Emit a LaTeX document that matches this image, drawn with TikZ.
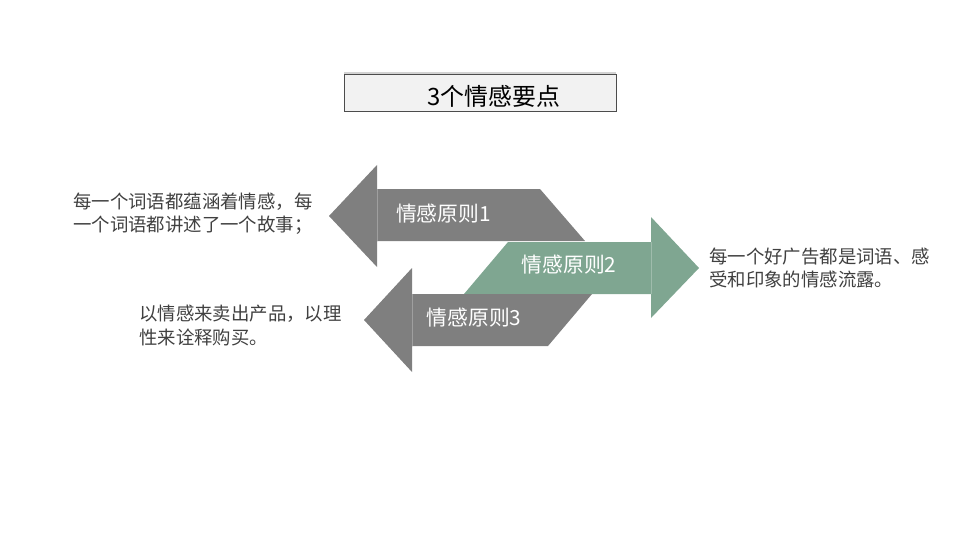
\documentclass[tikz,border=0pt]{standalone}
\usepackage{fontspec}
\setmainfont{Noto Sans CJK SC}
\usetikzlibrary{shadows}
\definecolor{arrgrey}{HTML}{7F7F7F}
\definecolor{arrgreen}{HTML}{7FA691}
\definecolor{txtgrey}{HTML}{404040}
\definecolor{boxfill}{HTML}{F2F2F2}
\tikzset{
  greyarrow/.style={fill=arrgrey, draw=none},
  greenarrow/.style={fill=arrgreen, draw=none},
  seam/.style={draw=white, opacity=0.25, line width=0.6pt},
  arrlabel/.style={text=white, font=\fontsize{20.8}{24}\selectfont, inner sep=0pt},
  sidetext/.style={text=txtgrey, font=\fontsize{18.4}{23.5}\selectfont, align=left, inner sep=0pt, anchor=west},
  titlebox/.style={draw=black!70, line width=0.8pt, fill=boxfill, minimum width=272pt, minimum height=37pt, inner sep=0pt,
    drop shadow={shadow xshift=0pt, shadow yshift=2pt, opacity=0.35}},
}
\begin{document}
\begin{tikzpicture}[x=1pt,y=-1pt]
\useasboundingbox (0,0) rectangle (960,540);
% title
\node[titlebox] (title) at (480,92.5) {};
\node[font=\fontsize{23.9}{27}\selectfont, inner sep=0pt] (titletext) at (494,96) {3个情感要点};
% arrow 2 (green, right)
\fill[greenarrow] (464,294) -- (508,242) -- (651,242) -- (651,217) -- (699,268) -- (651,318) -- (651,294) -- cycle;
\draw[seam] (651,242) -- (651,294);
% arrow 1 (grey, left)
\fill[greyarrow] (329,216) -- (377,165) -- (377,189) -- (540,189) -- (585,241) -- (377,241) -- (377,267) -- cycle;
\draw[seam] (377,189) -- (377,241);
% arrow 3 (grey, left)
\fill[greyarrow] (364,320) -- (412,268) -- (412,294) -- (592,294) -- (548,346) -- (412,346) -- (412,372) -- cycle;
\draw[seam] (412,294) -- (412,346);
% labels
\node[arrlabel] (p1) at (443.5,214) {情感原则1};
\node[arrlabel] (p2) at (569,265) {情感原则2};
\node[arrlabel] (p3) at (474,318) {情感原则3};
% side texts
\node[sidetext] (t1) at (73,213.5) {每一个词语都蕴涵着情感，每\\一个词语都讲述了一个故事；};
\node[sidetext] (t3) at (139,325.5) {以情感来卖出产品，以理\\性来诠释购买。};
\node[sidetext] (t2) at (709,268) {每一个好广告都是词语、感\\受和印象的情感流露。};
\end{tikzpicture}
\end{document}
